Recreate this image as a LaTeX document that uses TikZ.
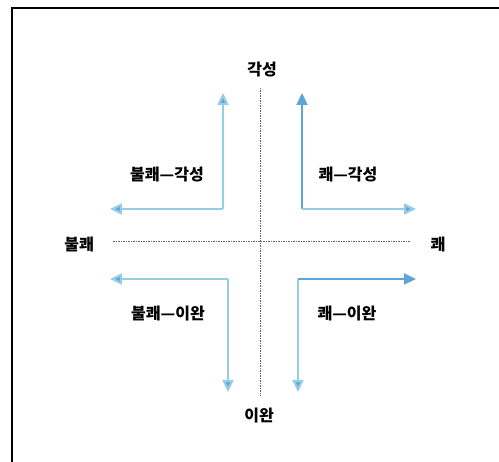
\documentclass[tikz,border=0pt]{standalone}
\usepackage{fontspec}
\newfontfamily\kr{Noto Sans CJK KR}
\usetikzlibrary{arrows.meta}
\definecolor{arrsolid}{RGB}{95,165,215}
\definecolor{arrlight}{RGB}{150,205,230}
\begin{document}
\begin{tikzpicture}[x=1pt,y=-1pt,
  axis/.style={draw=gray!80!black, line width=0.8pt, dash pattern=on 1.5pt off 1pt},
  lab/.style={font=\kr\bfseries\fontsize{16}{18}\selectfont, inner sep=0pt},
  arrsoft/.style={draw=arrlight, line width=2.2pt, -{Triangle[width=11pt,length=12pt,fill=arrsolid]}},
  arrhard/.style={draw=arrsolid, line width=2.2pt, -{Triangle[width=11pt,length=12pt,fill=arrsolid]}}]
\useasboundingbox (0,0) rectangle (499,462);
\draw[line width=1.2pt] (12,462) -- (12,8) -- (499,8);
% axes
\coordinate (vt) at (260,88);
\coordinate (vb) at (260,396);
\coordinate (hl) at (113,241);
\coordinate (hr) at (410,241);
\draw[axis] (vt) -- (vb);
\draw[axis] (hl) -- (hr);
% axis labels
\node[lab] (top) at (262,70) {각성};
\node[lab] (bot) at (259,416) {이완};
\node[lab] (left) at (79,245) {불쾌};
\node[lab] (right) at (438,245) {쾌};
% quadrant labels
\node[lab] (ql1) at (167,175) {불쾌—각성};
\node[lab] (qr1) at (348,175) {쾌—각성};
\node[lab] (ql2) at (168,314) {불쾌—이완};
\node[lab] (qr2) at (347,314) {쾌—이완};
% corners and ends
\coordinate (c1) at (223,209);
\coordinate (c1u) at (223,93);
\coordinate (c1l) at (110,209);
\coordinate (c2) at (302,209);
\coordinate (c2u) at (302,93);
\coordinate (c2r) at (416,209);
\coordinate (c3) at (228,279);
\coordinate (c3d) at (228,392);
\coordinate (c3l) at (110,279);
\coordinate (c4) at (298,279);
\coordinate (c4d) at (298,392);
\coordinate (c4r) at (416,279);
\draw[arrsoft] (c1) -- (c1u);
\draw[arrsoft] (c1) -- (c1l);
\draw[arrhard] (c2) -- (c2u);
\draw[arrsoft] (c2) -- (c2r);
\draw[arrsoft] (c3) -- (c3l);
\draw[arrsoft] (c3) -- (c3d);
\draw[arrsoft] (c4) -- (c4d);
\draw[arrhard] (c4) -- (c4r);
\end{tikzpicture}
\end{document}
